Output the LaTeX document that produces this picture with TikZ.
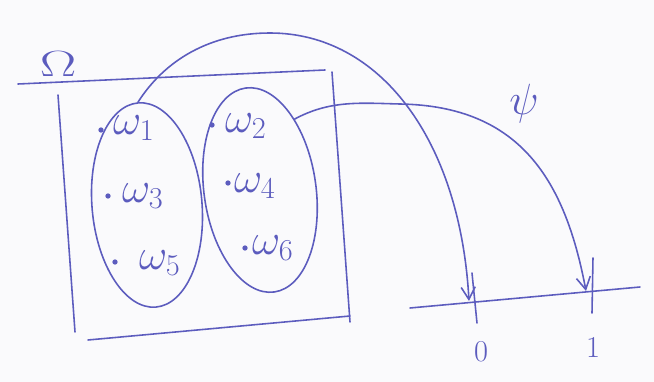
\documentclass[tikz,border=0pt]{standalone}
\usetikzlibrary{arrows.meta,shapes.geometric}
\definecolor{ink}{RGB}{92,92,190}
\definecolor{paper}{RGB}{250,250,252}
\begin{document}
\begin{tikzpicture}[x=0.02cm,y=-0.02cm,
  inkline/.style={draw=ink,line width=0.9pt,line cap=round,line join=round},
  set/.style={ellipse,inkline,inner sep=0pt},
  elem/.style={text=ink,font=\fontsize{25}{28}\selectfont,inner sep=1pt,anchor=west},
  pt/.style={circle,fill=ink,inner sep=0pt,minimum size=3pt},
  map/.style={inkline,-{Straight Barb[length=7pt,width=8pt,line width=0.9pt]}},
  lbl/.style={text=ink,inner sep=0pt},
]
\fill[paper] (0,0) rectangle (654,382);
\useasboundingbox (0,0) rectangle (654,382);

% sample space Omega
\draw[inkline] (18,84) -- (325,70);
\draw[inkline] (58,95) -- (75,332);
\draw[inkline] (332,72) -- (350,322);
\draw[inkline] (88,340) -- (350,316);
\node[lbl,font=\fontsize{22}{26}\selectfont,xscale=1.5] (Omega) at (58,64) {$\Omega$};

% the two events
\node[set,minimum width=2.2cm,minimum height=4.1cm,rotate=5] (A) at (147,205) {};
\node[set,minimum width=2.24cm,minimum height=4.12cm,rotate=8] (B) at (260,190) {};

% outcomes
\node[pt] (d1) at (101,130) {}; \node[elem] (w1) at (111,128) {$\omega_1$};
\node[pt] (d3) at (108,196) {}; \node[elem] (w3) at (120,196) {$\omega_3$};
\node[pt] (d5) at (115,262) {}; \node[elem] (w5) at (137,263) {$\omega_5$};
\node[pt] (d2) at (212,125) {}; \node[elem] (w2) at (223,126) {$\omega_2$};
\node[pt] (d4) at (228,183) {}; \node[elem] (w4) at (232,186) {$\omega_4$};
\node[pt] (d6) at (245,248) {}; \node[elem] (w6) at (250,248) {$\omega_6$};

% target line with the values 0 and 1
\coordinate (ax0) at (410,308);
\coordinate (ax1) at (640,287);
\draw[inkline] (ax0) -- (ax1);
\coordinate (z0) at (469,301);
\coordinate (z1) at (586,291);
\coordinate (t0a) at (472,273); \coordinate (t0b) at (477,323);
\coordinate (t1a) at (593,258); \coordinate (t1b) at (592,313);
\draw[inkline] (t0a) -- (t0b);
\draw[inkline] (t1a) -- (t1b);
\node[lbl,font=\fontsize{18}{22}\selectfont] (zero) at (481,352) {$0$};
\node[lbl,font=\fontsize{18}{22}\selectfont] (one) at (593,348) {$1$};

% the map psi
\node[lbl,font=\fontsize{30}{34}\selectfont] (psi) at (524,104) {$\psi$};
\draw[map] (A.north) .. controls (165,60) and (210,33) .. (270,33)
  .. controls (380,33) and (460,140) .. (z0);
\draw[map] (B.56) .. controls (330,100) and (360,103) .. (400,104)
  .. controls (520,106) and (565,180) .. (z1);
\end{tikzpicture}
\end{document}
